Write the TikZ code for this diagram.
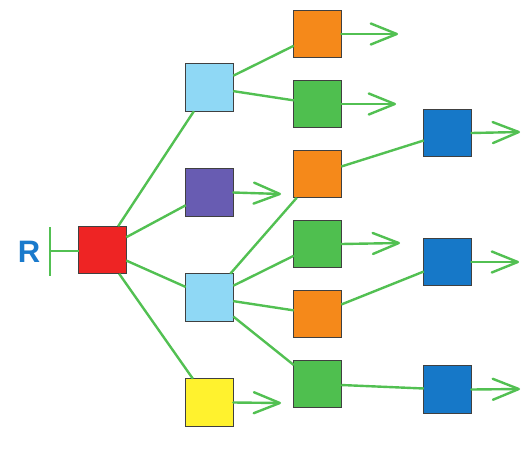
\documentclass[tikz,border=0pt]{standalone}
\usepackage{fontspec}
\setmainfont{Liberation Sans}
\usetikzlibrary{arrows.meta}
\definecolor{lnG}{RGB}{82,192,82}
\definecolor{cRed}{RGB}{238,36,36}
\definecolor{cLB}{RGB}{143,216,245}
\definecolor{cPur}{RGB}{104,92,178}
\definecolor{cYel}{RGB}{255,242,46}
\definecolor{cOr}{RGB}{245,137,26}
\definecolor{cGr}{RGB}{79,191,79}
\definecolor{cBl}{RGB}{22,120,200}
\definecolor{cR}{RGB}{26,122,204}
\begin{document}
\begin{tikzpicture}[x=1pt,y=-1pt,
  sq/.style={draw=black!75,line width=1.1pt,minimum size=47.5pt,inner sep=0pt,outer sep=0pt},
  edge/.style={draw=lnG,line width=2.4pt},
  arr/.style={draw=lnG,line width=2.4pt,line cap=round,-{Straight Barb[length=26pt,width=21pt,line cap=round,round]}}]
\useasboundingbox (0,0) rectangle (526,452);
\node[sq,fill=cRed] (red) at (102.5,250) {};
\node[sq,fill=cLB] (lb1) at (209.5,87.5) {};
\node[sq,fill=cPur] (pur) at (209.5,192.5) {};
\node[sq,fill=cLB] (lb2) at (209.5,297.5) {};
\node[sq,fill=cYel] (yel) at (209.5,402.5) {};
\node[sq,fill=cOr] (o1) at (317.5,34) {};
\node[sq,fill=cGr] (g1) at (317.5,104) {};
\node[sq,fill=cOr] (o2) at (317.5,174) {};
\node[sq,fill=cGr] (g2) at (317.5,244) {};
\node[sq,fill=cOr] (o3) at (317.5,314) {};
\node[sq,fill=cGr] (g3) at (317.5,384) {};
\node[sq,fill=cBl] (b1) at (447.5,133) {};
\node[sq,fill=cBl] (b2) at (447.5,262) {};
\node[sq,fill=cBl] (b3) at (447.5,389.5) {};
\node[text=cR,font=\bfseries\fontsize{31}{31}\selectfont,inner sep=0pt] (R) at (29,252) {R};
\coordinate (bt) at (50,227);
\coordinate (bb) at (50,276);
\coordinate (bm) at (50,251);
\draw[edge] (bt) -- (bb);
\draw[edge] (bm) -- (red.west |- bm);
\foreach \a/\b in {red/lb1,red/pur,red/lb2,red/yel,lb1/o1,lb1/g1,lb2/o2,lb2/g2,lb2/o3,lb2/g3,o2/b1,o3/b2,g3/b3}
  \draw[edge] (\a) -- (\b);
\coordinate (to1) at (398,34);
\coordinate (tg1) at (396,104);
\coordinate (tpur) at (281,194);
\coordinate (tg2) at (400,243);
\coordinate (tyel) at (281,403);
\coordinate (tb1) at (520,132);
\coordinate (tb2) at (519,262);
\coordinate (tb3) at (520,389);
\draw[arr] (o1.east) -- (to1);
\draw[arr] (g1.east) -- (tg1);
\draw[arr] (pur.east) -- (tpur);
\draw[arr] (g2.east) -- (tg2);
\draw[arr] (yel.east) -- (tyel);
\draw[arr] (b1.east) -- (tb1);
\draw[arr] (b2.east) -- (tb2);
\draw[arr] (b3.east) -- (tb3);
\end{tikzpicture}
\end{document}
